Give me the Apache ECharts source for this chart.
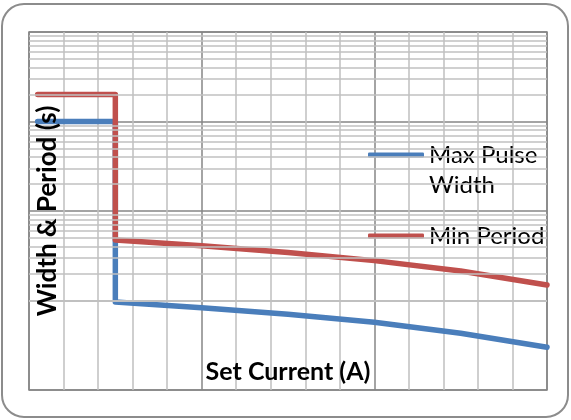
<!DOCTYPE html>
<html>
<head>
<meta charset="utf-8">
<script src="https://cdn.jsdelivr.net/npm/echarts@6/dist/echarts.min.js"></script>
<style>
html,body{margin:0;padding:0;background:#fff;}
#chart{width:571px;height:420px;}
</style>
</head>
<body>
<div id="chart"></div>
<script>
// Set current (A) positions
var xWidth  = [0.25, 2.5, 2.5, 5, 7.5, 10, 12.5, 15];
var xPeriod = [0.25, 2.5, 2.5, 5, 7.5, 10, 12.5, 15];
// Max pulse width (s)
var maxPulseWidth = [1.0, 1.0, 0.0096, 0.0083, 0.0070, 0.0057, 0.0043, 0.0030];
// Min period (s)
var minPeriod = [2.0, 2.0, 0.0474, 0.0409, 0.0344, 0.0279, 0.0214, 0.0149];
var seriesNames = ['Max Pulse Width', 'Min Period'];

// minor log gridlines (2..9 within each decade)
var decades = [0.001, 0.01, 0.1, 1];
var minorMultipliers = [2, 3, 4, 5, 6, 7, 8, 9];
var minorLines = [];
decades.forEach(function (d) {
  minorMultipliers.forEach(function (m) {
    minorLines.push({ yAxis: +(d * m).toPrecision(3) });
  });
});

function pairs(xs, ys) { return xs.map(function (x, i) { return [x, ys[i]]; }); }

var FONT = 'Lato, "Open Sans", sans-serif';
var chart = echarts.init(document.getElementById('chart'), null, { renderer: 'canvas' });
chart.setOption({
  backgroundColor: '#ffffff',
  animation: false,
  graphic: [{
    type: 'rect', z: -10, silent: true,
    shape: { x: 2, y: 4, width: 566, height: 413, r: 22 },
    style: { fill: 'none', stroke: '#8c8c8c', lineWidth: 2 }
  }],
  grid: { left: 29, top: 32, right: 24, bottom: 30, show: true, borderColor: '#868686', borderWidth: 1.5, containLabel: false, z: 1 },
  xAxis: {
    type: 'value', min: 0, max: 15, interval: 5, z: 1,
    axisLine: { show: false }, axisTick: { show: false }, axisLabel: { show: false },
    splitLine: { show: true, lineStyle: { color: '#868686', width: 1.5 } },
    minorTick: { show: false, splitNumber: 5 },
    minorSplitLine: { show: true, lineStyle: { color: '#c0c0c0', width: 1.5 } },
    name: 'Set Current (A)', nameLocation: 'middle', nameGap: -18,
    nameTextStyle: { fontFamily: FONT, fontWeight: 'bold', fontSize: 25, color: '#000', verticalAlign: 'middle' }
  },
  yAxis: [{
    type: 'log', logBase: 10, min: 0.001, max: 10, z: 1, position: 'left',
    axisLine: { show: false }, axisTick: { show: false }, axisLabel: { show: false },
    splitLine: { show: true, lineStyle: { color: '#868686', width: 1.5 } }
  }, {
    type: 'log', logBase: 10, min: 0.001, max: 10, z: 10, position: 'left', offset: 0,
    axisLine: { show: false }, axisTick: { show: false }, axisLabel: { show: false },
    splitLine: { show: false },
    name: 'Width & Period (s)', nameLocation: 'middle', nameGap: -19, nameRotate: 90,
    nameTextStyle: { fontFamily: FONT, fontWeight: 'bold', fontSize: 26, color: '#000', verticalAlign: 'middle', align: 'center' }
  }],
  legend: [{
    data: [seriesNames[0]], left: 368, top: 110, padding: 0,
    icon: 'roundRect', itemWidth: 56, itemHeight: 5, itemGap: 0,
    formatter: function () { return '\nMax Pulse\nWidth'; },
    textStyle: { fontFamily: FONT, fontSize: 24, color: '#000', lineHeight: 30 }
  }, {
    data: [seriesNames[1]], left: 368, top: 221, padding: 0,
    icon: 'roundRect', itemWidth: 56, itemHeight: 5, itemGap: 0,
    textStyle: { fontFamily: FONT, fontSize: 24, color: '#000', lineHeight: 30 }
  }],
  series: [{
    type: 'line', name: 'grid', silent: true, z: 0, data: [],
    markLine: {
      silent: true, symbol: 'none', label: { show: false },
      lineStyle: { color: '#c0c0c0', width: 1.5, type: 'solid' },
      emphasis: { disabled: true },
      data: minorLines
    }
  }, {
    type: 'line', name: seriesNames[0], data: pairs(xWidth, maxPulseWidth), z: 3,
    symbol: 'none', showSymbol: false,
    lineStyle: { color: '#4a7ebb', width: 5.5, cap: 'round', join: 'round' },
    itemStyle: { color: '#4a7ebb' }
  }, {
    type: 'line', name: seriesNames[1], data: pairs(xPeriod, minPeriod), z: 4,
    symbol: 'none', showSymbol: false,
    lineStyle: { color: '#c0504d', width: 5.5, cap: 'round', join: 'round' },
    itemStyle: { color: '#c0504d' }
  }]
});
</script>
</body>
</html>
